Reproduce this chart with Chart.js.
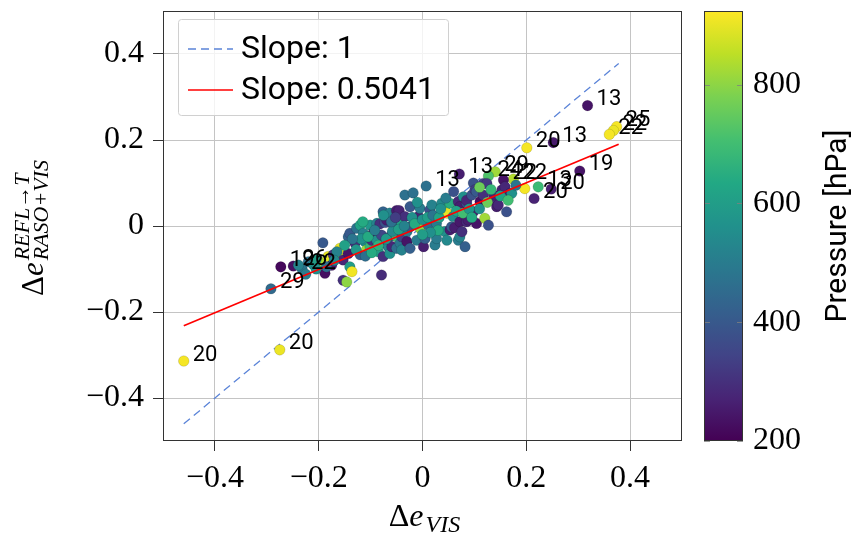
<!DOCTYPE html>
<html>
<head>
<meta charset="utf-8">
<script src="https://cdn.jsdelivr.net/npm/chart.js@4.4.1/dist/chart.umd.min.js"></script>
<style>
  html, body { margin: 0; padding: 0; background: #ffffff; }
  canvas { display: block; }
</style>
</head>
<body>
<canvas id="scatterChart" width="855" height="540"></canvas>
<script>
// values
const xVals = [
  -0.460, -0.275, -0.292, -0.273, -0.249, -0.232, 0.318, 0.374, 0.368, 0.360,
  0.201, 0.252, 0.303, 0.248, 0.215, 0.223, 0.140, 0.127, 0.175, 0.156,
  0.071, 0.007,
  -0.225, -0.220, -0.239, -0.198, -0.192, -0.188, -0.182, -0.175, -0.172, -0.162,
  -0.159, -0.153, -0.153, -0.146, -0.143, -0.143, -0.140, -0.140, -0.136, -0.130,
  -0.127, -0.120, -0.120, -0.114, -0.111, -0.108, -0.101, -0.101, -0.098, -0.095,
  -0.092, -0.088, -0.088, -0.085, -0.082, -0.079, -0.079, -0.076, -0.076, -0.072,
  -0.072, -0.069, -0.066, -0.063, -0.063, -0.063, -0.059, -0.056, -0.050, -0.050,
  -0.050, -0.045, -0.043, -0.040, -0.040, -0.040, -0.034, -0.034, -0.030, -0.030,
  -0.024, -0.024, -0.024, -0.018, -0.011, -0.008, -0.005, -0.005, 0.002, 0.005,
  0.011, 0.014, 0.018, 0.024, 0.027, 0.027, 0.037, 0.043, 0.043, 0.047,
  0.047, 0.053, 0.053, 0.056, 0.059, 0.062, 0.069, 0.069, 0.072, 0.072,
  0.072, 0.076, 0.079, 0.082, 0.085, 0.085, 0.085, 0.088, 0.095, 0.098,
  0.098, 0.101, 0.104, 0.104, 0.111, 0.120, 0.117, 0.117, 0.124, 0.127,
  0.136, 0.137, 0.143, 0.146, 0.153, 0.159, 0.162, 0.169, 0.172, 0.197,
  -0.210, -0.205,
  -0.118, -0.105, -0.092, -0.085, -0.070, -0.058, -0.046, -0.035, -0.128, -0.135,
  -0.150, -0.165, -0.110, -0.098, -0.060, -0.052, -0.020, -0.015, 0.000, 0.010,
  0.020, 0.032, 0.035, 0.030, 0.015, 0.000, 0.065, 0.078, 0.090, 0.095,
  0.110, 0.125, 0.132, 0.150, 0.165, 0.180, 0.110, -0.185, -0.205, -0.170,
  -0.115, -0.075, -0.010, 0.045, 0.060
];
const yVals = [
  -0.314, -0.288, -0.146, -0.095, -0.093, -0.100, 0.280, 0.231, 0.222, 0.213,
  0.182, 0.194, 0.128, 0.086, 0.064, 0.091, 0.126, 0.116, 0.109, 0.107,
  0.121, 0.093,
  -0.112, -0.083, -0.091, -0.083, -0.039, -0.110, -0.071, -0.091, -0.067, -0.071,
  -0.052, -0.079, -0.126, -0.130, -0.064, -0.025, -0.017, -0.095, -0.106, -0.040,
  -0.005, 0.002, -0.067, -0.017, -0.036, -0.056, 0.002, -0.048, -0.033, -0.017,
  -0.056, 0.006, -0.033, -0.060, 0.005, -0.021, -0.114, 0.033, -0.071, 0.008,
  -0.040, 0.014, -0.048, -0.025, 0.030, -0.064, -0.048, 0.002, 0.036, -0.025,
  -0.052, 0.036, -0.040, 0.006, -0.025, -0.056, 0.072, 0.022, -0.013, -0.036,
  -0.002, 0.045, -0.052, 0.077, -0.033, 0.022, -0.005, 0.041, -0.048, -0.029,
  0.002, 0.037, 0.049, -0.044, 0.006, -0.029, 0.053, -0.013, 0.037, 0.030,
  -0.033, 0.053, -0.009, -0.002, 0.022, -0.004, 0.057, -0.033, 0.045, 0.010,
  -0.025, -0.013, 0.068, -0.048, 0.053, 0.060, 0.010, 0.014, 0.072, 0.033,
  0.100, 0.084, 0.080, 0.006, 0.057, 0.018, 0.072, 0.099, 0.099, 0.002,
  0.060, 0.072, 0.045, 0.049, 0.084, 0.091, 0.033, 0.076, 0.076, 0.087,
  -0.090, -0.078,
  -0.030, -0.025, -0.010, -0.045, -0.030, -0.012, -0.008, 0.000, -0.055, -0.030,
  -0.045, -0.060, -0.070, -0.062, 0.010, 0.020, 0.020, 0.005, 0.015, 0.020,
  0.025, 0.020, 0.040, -0.010, -0.015, -0.020, 0.035, 0.030, 0.040, 0.020,
  0.040, 0.055, 0.085, 0.070, 0.060, 0.095, 0.090, -0.095, -0.100, -0.080,
  0.010, 0.025, 0.055, 0.065, 0.080
];
const pressure = [
  915, 905, 450, 215, 230, 480, 240, 915, 905, 915,
  915, 250, 240, 260, 270, 690, 820, 720, 840, 240,
  260, 470,
  500, 470, 520, 830, 400, 230, 900, 250, 300, 860,
  900, 280, 300, 800, 240, 430, 400, 600, 910, 300,
  470, 620, 400, 520, 550, 820, 580, 680, 300, 240,
  700, 520, 560, 600, 300, 350, 290, 430, 300, 380,
  220, 260, 520, 360, 520, 560, 280, 400, 260, 700,
  460, 270, 480, 620, 330, 520, 470, 300, 500, 240,
  380, 400, 420, 470, 500, 270, 800, 500, 260, 420,
  450, 380, 520, 500, 500, 500, 540, 560, 700, 900,
  540, 650, 260, 400, 550, 260, 280, 500, 260, 250,
  520, 300, 560, 420, 350, 280, 280, 260, 380, 260,
  380, 330, 400, 240, 230, 820, 300, 340, 320, 380,
  290, 270, 260, 280, 270, 280, 380, 270, 560, 915,
  560, 600,
  560, 640, 500, 660, 590, 540, 600, 520, 580, 480,
  610, 520, 460, 640, 470, 330, 560, 640, 560, 600,
  480, 620, 560, 640, 560, 600, 620, 700, 580, 640,
  560, 760, 680, 620, 700, 480, 760, 460, 560, 540,
  640, 560, 560, 500, 380
];
const pointLabels = [
  "20", "20", "29", "19", "26", "22", "13", "25", "22", "22",
  "20", "13", "19", "20", "20", "13", "29", "24", "22", "22",
  "13", "13"
];

const xTicks = [-0.4, -0.2, 0, 0.2, 0.4];
const yTicks = [-0.4, -0.2, 0, 0.2, 0.4];
const pressureTicks = [200, 400, 600, 800];
const pressureRange = [200, 924];

const oneToOneX = [-0.46, 0.378];
const oneToOneY = [-0.46, 0.378];
const fitX = [-0.46, 0.378];
const fitY = [-0.232, 0.190];

const legendLabels = ["Slope: 1", "Slope: 0.5041"];

// viridis colour map
const viridisStops = [
  [68, 1, 84], [72, 36, 117], [65, 68, 135], [53, 95, 141], [42, 120, 142],
  [33, 145, 140], [34, 168, 132], [68, 191, 112], [122, 209, 81], [189, 223, 38],
  [253, 231, 37]
];

function viridis(t) {
  t = Math.min(1, Math.max(0, t));
  const f = t * (viridisStops.length - 1);
  const i = Math.min(Math.floor(f), viridisStops.length - 2);
  const r = f - i;
  const a = viridisStops[i], b = viridisStops[i + 1];
  const c = a.map((v, k) => Math.round(v + (b[k] - v) * r));
  return "rgb(" + c.join(",") + ")";
}

function pressureColor(p) {
  return viridis((p - pressureRange[0]) / (pressureRange[1] - pressureRange[0]));
}

function fmtTick(v) {
  if (Math.abs(v) < 1e-9) return "0";
  return (v < 0 ? "\u2212" : "") + Math.abs(v).toFixed(1);
}

// keep the axes from adding their own padding around the plot
function noPad(s) {
  s.paddingTop = 0;
  s.paddingBottom = 0;
  s.paddingLeft = 0;
  s.paddingRight = 0;
}

const serif = "'Liberation Serif', 'DejaVu Serif', serif";

const decorPlugin = {
  id: "decor",
  afterDatasetsDraw(chart) {
    const { ctx, chartArea: a, scales } = chart;
    ctx.save();

    // point labels
    ctx.font = "22px Roboto";
    ctx.fillStyle = "#000";
    ctx.textBaseline = "middle";
    ctx.textAlign = "left";
    pointLabels.forEach((t, i) => {
      if (!t) return;
      const px = scales.x.getPixelForValue(xVals[i]);
      const py = scales.y.getPixelForValue(yVals[i]);
      ctx.fillText(t, px + 9, py - 6);
    });

    // frame
    ctx.strokeStyle = "#333";
    ctx.lineWidth = 1;
    ctx.strokeRect(Math.round(a.left) + 0.5, Math.round(a.top) + 0.5,
      Math.round(a.width) - 1, Math.round(a.height) - 1);

    // legend
    const lx = a.left + 15, ly = a.top + 8, lw = 270, lh = 96;
    ctx.beginPath();
    ctx.roundRect(lx + 0.5, ly + 0.5, lw, lh, 3);
    ctx.fillStyle = "rgba(255,255,255,0.8)";
    ctx.fill();
    ctx.strokeStyle = "#d0d0d0";
    ctx.stroke();

    const rows = [ly + 30, ly + 71];
    ctx.lineWidth = 1.3;
    ctx.strokeStyle = "#5b84d8";
    ctx.setLineDash([8, 5]);
    ctx.beginPath();
    ctx.moveTo(lx + 10, rows[0]);
    ctx.lineTo(lx + 55, rows[0]);
    ctx.stroke();
    ctx.setLineDash([]);
    ctx.lineWidth = 1.7;
    ctx.strokeStyle = "#ff0000";
    ctx.beginPath();
    ctx.moveTo(lx + 10, rows[1]);
    ctx.lineTo(lx + 55, rows[1]);
    ctx.stroke();

    ctx.fillStyle = "#000";
    ctx.font = "32px Roboto";
    ctx.textBaseline = "middle";
    legendLabels.forEach((t, i) => ctx.fillText(t, lx + 63, rows[i] + 1));

    ctx.restore();
  },
  afterDraw(chart) {
    const { ctx, chartArea: a, scales } = chart;
    const s = scales.p;
    ctx.save();

    // colour bar
    const cx = a.right + 22, cw = 39;
    const yTop = s.getPixelForValue(pressureRange[1]);
    const yBot = s.getPixelForValue(pressureRange[0]);
    const grad = ctx.createLinearGradient(0, yBot, 0, yTop);
    viridisStops.forEach((c, i) => {
      grad.addColorStop(i / (viridisStops.length - 1), "rgb(" + c.join(",") + ")");
    });
    ctx.fillStyle = grad;
    ctx.fillRect(cx, yTop, cw, yBot - yTop);
    ctx.strokeStyle = "rgba(128,128,128,0.8)";
    ctx.lineWidth = 1;
    pressureTicks.forEach(v => {
      const y = Math.round(s.getPixelForValue(v)) + 0.5;
      ctx.beginPath();
      ctx.moveTo(cx, y); ctx.lineTo(cx + 6, y);
      ctx.moveTo(cx + cw - 6, y); ctx.lineTo(cx + cw, y);
      ctx.stroke();
    });
    ctx.strokeStyle = "#333";
    ctx.strokeRect(Math.round(cx) + 0.5, Math.round(yTop) + 0.5, cw - 1, Math.round(yBot - yTop) - 1);

    // colour bar title
    ctx.fillStyle = "#000";
    ctx.save();
    ctx.translate(838, (a.top + a.bottom) / 2);
    ctx.rotate(-Math.PI / 2);
    ctx.font = "30px Roboto";
    ctx.textAlign = "center";
    ctx.textBaseline = "middle";
    ctx.fillText("Pressure [hPa]", 0, 0);
    ctx.restore();

    // x axis title: Δe_VIS
    ctx.textBaseline = "alphabetic";
    ctx.textAlign = "left";
    ctx.font = "32px " + serif;
    const wD = ctx.measureText("\u0394").width;
    ctx.font = "italic 32px " + serif;
    const wE = ctx.measureText("e").width;
    ctx.font = "italic 24px " + serif;
    const wV = ctx.measureText("VIS").width;
    let x0 = (a.left + a.right) / 2 + 2 - (wD + wE + 2 + wV) / 2;
    const by = 526;
    ctx.font = "32px " + serif;
    ctx.fillText("\u0394", x0, by);
    ctx.font = "italic 32px " + serif;
    ctx.fillText("e", x0 + wD, by);
    ctx.font = "italic 24px " + serif;
    ctx.fillText("VIS", x0 + wD + wE + 2, by + 6);

    // y axis title: Δe^{REFL→T}_{RASO+VIS}
    ctx.save();
    ctx.translate(43, 228);
    ctx.rotate(-Math.PI / 2);
    ctx.font = "31px " + serif;
    const wD2 = ctx.measureText("\u0394").width;
    ctx.font = "italic 31px " + serif;
    const wE2 = ctx.measureText("e").width;
    ctx.font = "italic 22px " + serif;
    const wSup = ctx.measureText("REFL\u2192T").width;
    const wSub = ctx.measureText("RASO+VIS").width;
    const tot = wD2 + wE2 + 2 + Math.max(wSup, wSub);
    let sx = -tot / 2;
    ctx.font = "31px " + serif;
    ctx.fillText("\u0394", sx, 0);
    ctx.font = "italic 31px " + serif;
    ctx.fillText("e", sx + wD2, 0);
    ctx.font = "italic 22px " + serif;
    ctx.fillText("REFL\u2192T", sx + wD2 + wE2 + 2, -14);
    ctx.fillText("RASO+VIS", sx + wD2 + wE2 + 2, 5);
    ctx.restore();

    ctx.restore();
  }
};

const ctx = document.getElementById("scatterChart");

new Chart(ctx, {
  type: "scatter",
  data: {
    datasets: [
      {
        label: legendLabels[1],
        data: fitX.map((x, i) => ({ x: x, y: fitY[i] })),
        showLine: true,
        borderColor: "#ff0000",
        borderWidth: 1.7,
        pointRadius: 0,
        order: 0
      },
      {
        label: "points",
        data: xVals.map((x, i) => ({ x: x, y: yVals[i] })),
        backgroundColor: pressure.map(pressureColor),
        borderColor: "rgba(0,0,0,0.22)",
        borderWidth: 0.6,
        pointRadius: 5.3,
        order: 1
      },
      {
        label: legendLabels[0],
        data: oneToOneX.map((x, i) => ({ x: x, y: oneToOneY[i] })),
        showLine: true,
        borderColor: "#5b84d8",
        borderWidth: 1.3,
        borderDash: [8, 5],
        pointRadius: 0,
        order: 2
      }
    ]
  },
  options: {
    responsive: false,
    animation: false,
    devicePixelRatio: 1,
    layout: { padding: { top: 11, left: 0, right: 0, bottom: 0 } },
    plugins: {
      legend: { display: false },
      tooltip: { enabled: false }
    },
    scales: {
      x: {
        type: "linear",
        min: -0.5,
        max: 0.5,
        afterBuildTicks: s => { s.ticks = xTicks.map(v => ({ value: v })); },
        afterFit: s => { s.height = 99; noPad(s); },
        grid: { color: "#c4c4c4", tickColor: "#333", tickLength: 10 },
        border: { display: false },
        ticks: {
          autoSkip: false,
          maxRotation: 0,
          padding: 8,
          color: "#000",
          font: { family: serif, size: 32 },
          callback: v => fmtTick(v)
        }
      },
      y: {
        type: "linear",
        min: -0.5,
        max: 0.5,
        afterBuildTicks: s => { s.ticks = yTicks.map(v => ({ value: v })); },
        afterFit: s => { s.width = 163; noPad(s); },
        grid: { color: "#c4c4c4", tickColor: "#333", tickLength: 10 },
        border: { display: false },
        ticks: {
          autoSkip: false,
          padding: 9,
          color: "#000",
          font: { family: serif, size: 32 },
          callback: v => fmtTick(v)
        }
      },
      p: {
        type: "linear",
        position: "right",
        min: pressureRange[0],
        max: pressureRange[1],
        afterBuildTicks: s => { s.ticks = pressureTicks.map(v => ({ value: v })); },
        afterFit: s => { s.width = 173; noPad(s); },
        grid: { display: false, drawTicks: false },
        border: { display: false },
        ticks: {
          padding: 71,
          color: "#000",
          font: { family: serif, size: 32 },
          callback: v => String(v)
        }
      }
    }
  },
  plugins: [decorPlugin]
});
</script>
</body>
</html>
